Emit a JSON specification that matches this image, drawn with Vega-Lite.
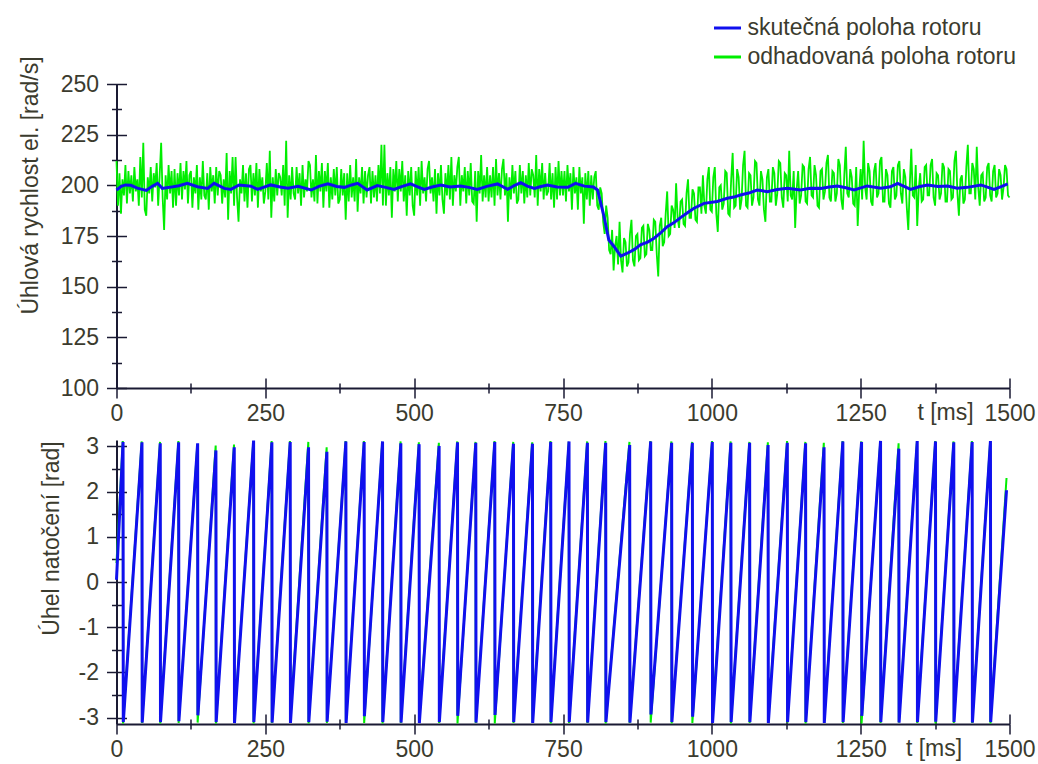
{
  "$schema": "https://vega.github.io/schema/vega-lite/v6.json",
  "padding": {"left": 18.5, "top": 13, "right": 5, "bottom": 5},
  "background": "white",
  "spacing": 52,
  "bounds": "flush",
  "config": {
    "view": {"stroke": null},
    "font": "Liberation Sans",
    "axis": {
      "labelFont": "Liberation Sans", "labelFontSize": 23, "labelColor": "#3b3b2e",
      "titleFont": "Liberation Sans", "titleFontSize": 23, "titleFontWeight": "normal", "titleColor": "#3b3b2e",
      "domainColor": "#1a1a33", "domainWidth": 2, "tickColor": "#1a1a33", "tickWidth": 1.5, "grid": false
    },
    "legend": {
      "labelFont": "Liberation Sans", "labelFontSize": 23, "labelColor": "#3b3b2e", "labelLimit": 500
    }
  },
  "datasets": {
    "rychlostSkut": [
      {"t":0,"v":197.7},{"t":8,"v":199.5},{"t":15,"v":200.2},{"t":24,"v":200.0},{"t":35,"v":198.6},{"t":50,"v":197.5},{"t":60,"v":199.5},{"t":69,"v":201.0},{"t":77,"v":198.5},{"t":89,"v":199.0},
      {"t":105,"v":199.8},{"t":119,"v":201.0},{"t":136,"v":199.3},{"t":153,"v":198.5},{"t":164,"v":201.0},{"t":181,"v":198.5},{"t":192,"v":198.0},{"t":206,"v":200.2},{"t":226,"v":199.6},{"t":237,"v":198.0},
      {"t":259,"v":200.2},{"t":275,"v":199.2},{"t":288,"v":198.6},{"t":305,"v":199.5},{"t":327,"v":197.7},{"t":340,"v":199.5},{"t":355,"v":200.7},{"t":370,"v":199.4},{"t":383,"v":199.0},{"t":395,"v":200.2},
      {"t":405,"v":201.0},{"t":421,"v":197.7},{"t":438,"v":199.9},{"t":452,"v":199.0},{"t":466,"v":198.0},{"t":480,"v":199.5},{"t":494,"v":200.7},{"t":505,"v":199.4},{"t":517,"v":198.0},{"t":530,"v":199.2},
      {"t":545,"v":200.2},{"t":560,"v":199.2},{"t":578,"v":199.7},{"t":592,"v":199.0},{"t":606,"v":198.0},{"t":622,"v":199.5},{"t":640,"v":200.7},{"t":657,"v":198.0},{"t":668,"v":199.9},{"t":679,"v":201.3},
      {"t":690,"v":199.6},{"t":702,"v":198.5},{"t":713,"v":199.4},{"t":724,"v":200.2},{"t":740,"v":199.2},{"t":758,"v":199.0},{"t":771,"v":201.0},{"t":786,"v":199.6},{"t":801,"v":199.2},{"t":808,"v":197.7},
      {"t":819,"v":184.5},{"t":827,"v":173.0},{"t":836,"v":169.7},{"t":847,"v":165.1},{"t":858,"v":166.5},{"t":870,"v":168.4},{"t":880,"v":170.6},{"t":892,"v":172.0},{"t":903,"v":173.9},{"t":914,"v":176.5},
      {"t":925,"v":179.6},{"t":936,"v":181.5},{"t":948,"v":184.2},{"t":959,"v":186.5},{"t":970,"v":188.7},{"t":987,"v":191.1},{"t":1009,"v":192.0},{"t":1026,"v":193.6},{"t":1037,"v":194.2},{"t":1048,"v":195.2},
      {"t":1062,"v":196.2},{"t":1076,"v":197.7},{"t":1093,"v":196.9},{"t":1110,"v":197.9},{"t":1127,"v":198.5},{"t":1149,"v":197.7},{"t":1165,"v":198.6},{"t":1183,"v":198.5},{"t":1197,"v":199.2},{"t":1211,"v":199.7},
      {"t":1225,"v":198.8},{"t":1239,"v":197.7},{"t":1261,"v":199.7},{"t":1284,"v":198.6},{"t":1300,"v":199.3},{"t":1312,"v":201.0},{"t":1334,"v":198.0},{"t":1348,"v":199.3},{"t":1362,"v":200.2},{"t":1380,"v":199.4},
      {"t":1396,"v":199.7},{"t":1412,"v":198.6},{"t":1429,"v":199.0},{"t":1452,"v":200.2},{"t":1474,"v":198.0},{"t":1486,"v":199.4},{"t":1497,"v":200.7}
    ],
    "rychlostOdhad": [
      {"t":0,"v":212},{"t":2.5,"v":190},{"t":5,"v":206},{"t":7.5,"v":186},{"t":10,"v":203},{"t":12.5,"v":195},{"t":15,"v":210},{"t":17.5,"v":191},{"t":20,"v":207},{"t":22.5,"v":196},
      {"t":25,"v":205},{"t":27.5,"v":192},{"t":30,"v":209},{"t":32.5,"v":197},{"t":35,"v":203},{"t":37.5,"v":190},{"t":40,"v":214},{"t":42.5,"v":194},{"t":45,"v":221},{"t":47.5,"v":188},
      {"t":50,"v":185},{"t":52.5,"v":204},{"t":55,"v":196},{"t":57.5,"v":209},{"t":60,"v":192},{"t":62.5,"v":206},{"t":65,"v":199},{"t":67.5,"v":211},{"t":70,"v":190},{"t":72.5,"v":205},
      {"t":75,"v":221},{"t":77.5,"v":194},{"t":80,"v":178},{"t":82.5,"v":205},{"t":85,"v":193},{"t":87.5,"v":210},{"t":90,"v":196},{"t":92.5,"v":207},{"t":95,"v":189},{"t":97.5,"v":208},
      {"t":100,"v":190},{"t":102.5,"v":206},{"t":105,"v":195},{"t":107.5,"v":211},{"t":110,"v":193},{"t":112.5,"v":207},{"t":115,"v":198},{"t":117.5,"v":212},{"t":120,"v":191},{"t":122.5,"v":205},
      {"t":125,"v":207},{"t":127.5,"v":189},{"t":130,"v":204},{"t":132.5,"v":196},{"t":135,"v":210},{"t":137.5,"v":188},{"t":140,"v":204},{"t":142.5,"v":193},{"t":145,"v":212},{"t":147.5,"v":195},
      {"t":150,"v":193},{"t":152.5,"v":206},{"t":155,"v":188},{"t":157.5,"v":209},{"t":160,"v":197},{"t":162.5,"v":205},{"t":165,"v":191},{"t":167.5,"v":209},{"t":170,"v":195},{"t":172.5,"v":207},
      {"t":175,"v":205},{"t":177.5,"v":191},{"t":180,"v":203},{"t":182.5,"v":194},{"t":185,"v":216},{"t":187.5,"v":183},{"t":190,"v":207},{"t":192.5,"v":196},{"t":195,"v":214},{"t":197.5,"v":190},
      {"t":200,"v":214},{"t":202.5,"v":194},{"t":205,"v":182},{"t":207.5,"v":203},{"t":210,"v":196},{"t":212.5,"v":210},{"t":215,"v":192},{"t":217.5,"v":206},{"t":220,"v":189},{"t":222.5,"v":208},
      {"t":225,"v":210},{"t":227.5,"v":192},{"t":230,"v":206},{"t":232.5,"v":195},{"t":235,"v":211},{"t":237.5,"v":189},{"t":240,"v":208},{"t":242.5,"v":197},{"t":245,"v":204},{"t":247.5,"v":191},
      {"t":250,"v":197},{"t":252.5,"v":211},{"t":255,"v":193},{"t":257.5,"v":217},{"t":260,"v":184},{"t":262.5,"v":204},{"t":265,"v":192},{"t":267.5,"v":208},{"t":270,"v":195},{"t":272.5,"v":206},
      {"t":275,"v":204},{"t":277.5,"v":195},{"t":280,"v":210},{"t":282.5,"v":190},{"t":285,"v":222},{"t":287.5,"v":184},{"t":290,"v":205},{"t":292.5,"v":193},{"t":295,"v":209},{"t":297.5,"v":196},
      {"t":300,"v":193},{"t":302.5,"v":209},{"t":305,"v":196},{"t":307.5,"v":206},{"t":310,"v":190},{"t":312.5,"v":210},{"t":315,"v":194},{"t":317.5,"v":203},{"t":320,"v":197},{"t":322.5,"v":212},
      {"t":325,"v":210},{"t":327.5,"v":194},{"t":330,"v":203},{"t":332.5,"v":192},{"t":335,"v":215},{"t":337.5,"v":191},{"t":340,"v":207},{"t":342.5,"v":197},{"t":345,"v":211},{"t":347.5,"v":189},
      {"t":350,"v":207},{"t":352.5,"v":197},{"t":355,"v":211},{"t":357.5,"v":189},{"t":360,"v":204},{"t":362.5,"v":193},{"t":365,"v":208},{"t":367.5,"v":195},{"t":370,"v":209},{"t":372.5,"v":191},
      {"t":375,"v":193},{"t":377.5,"v":208},{"t":380,"v":195},{"t":382.5,"v":206},{"t":385,"v":183},{"t":387.5,"v":206},{"t":390,"v":192},{"t":392.5,"v":210},{"t":395,"v":194},{"t":397.5,"v":204},
      {"t":400,"v":192},{"t":402.5,"v":213},{"t":405,"v":187},{"t":407.5,"v":204},{"t":410,"v":196},{"t":412.5,"v":209},{"t":415,"v":191},{"t":417.5,"v":207},{"t":420,"v":194},{"t":422.5,"v":205},
      {"t":425,"v":209},{"t":427.5,"v":191},{"t":430,"v":207},{"t":432.5,"v":194},{"t":435,"v":205},{"t":437.5,"v":192},{"t":440,"v":210},{"t":442.5,"v":196},{"t":445,"v":220},{"t":447.5,"v":190},
      {"t":450,"v":220},{"t":452.5,"v":190},{"t":455,"v":206},{"t":457.5,"v":195},{"t":460,"v":209},{"t":462.5,"v":184},{"t":465,"v":208},{"t":467.5,"v":197},{"t":470,"v":212},{"t":472.5,"v":192},
      {"t":475,"v":208},{"t":477.5,"v":197},{"t":480,"v":212},{"t":482.5,"v":192},{"t":485,"v":205},{"t":487.5,"v":185},{"t":490,"v":207},{"t":492.5,"v":195},{"t":495,"v":209},{"t":497.5,"v":190},
      {"t":500,"v":185},{"t":502.5,"v":207},{"t":505,"v":195},{"t":507.5,"v":209},{"t":510,"v":190},{"t":512.5,"v":212},{"t":515,"v":196},{"t":517.5,"v":204},{"t":520,"v":192},{"t":522.5,"v":208},
      {"t":525,"v":212},{"t":527.5,"v":196},{"t":530,"v":204},{"t":532.5,"v":192},{"t":535,"v":208},{"t":537.5,"v":186},{"t":540,"v":206},{"t":542.5,"v":195},{"t":545,"v":210},{"t":547.5,"v":193},
      {"t":550,"v":186},{"t":552.5,"v":206},{"t":555,"v":195},{"t":557.5,"v":210},{"t":560,"v":193},{"t":562.5,"v":214},{"t":565,"v":190},{"t":567.5,"v":205},{"t":570,"v":197},{"t":572.5,"v":209},
      {"t":575,"v":214},{"t":577.5,"v":190},{"t":580,"v":205},{"t":582.5,"v":197},{"t":585,"v":209},{"t":587.5,"v":191},{"t":590,"v":207},{"t":592.5,"v":195},{"t":595,"v":211},{"t":597.5,"v":192},
      {"t":600,"v":191},{"t":602.5,"v":207},{"t":605,"v":182},{"t":607.5,"v":207},{"t":610,"v":196},{"t":612.5,"v":215},{"t":615,"v":192},{"t":617.5,"v":205},{"t":620,"v":194},{"t":622.5,"v":209},
      {"t":625,"v":192},{"t":627.5,"v":205},{"t":630,"v":194},{"t":632.5,"v":209},{"t":635,"v":190},{"t":637.5,"v":213},{"t":640,"v":195},{"t":642.5,"v":206},{"t":645,"v":193},{"t":647.5,"v":208},
      {"t":650,"v":213},{"t":652.5,"v":195},{"t":655,"v":206},{"t":657.5,"v":182},{"t":660,"v":204},{"t":662.5,"v":193},{"t":665,"v":210},{"t":667.5,"v":196},{"t":670,"v":207},{"t":672.5,"v":191},
      {"t":675,"v":193},{"t":677.5,"v":210},{"t":680,"v":196},{"t":682.5,"v":207},{"t":685,"v":191},{"t":687.5,"v":205},{"t":690,"v":194},{"t":692.5,"v":211},{"t":695,"v":195},{"t":697.5,"v":208},
      {"t":700,"v":205},{"t":702.5,"v":194},{"t":705,"v":215},{"t":707.5,"v":190},{"t":710,"v":208},{"t":712.5,"v":197},{"t":715,"v":211},{"t":717.5,"v":193},{"t":720,"v":206},{"t":722.5,"v":195},
      {"t":725,"v":197},{"t":727.5,"v":211},{"t":730,"v":193},{"t":732.5,"v":206},{"t":735,"v":189},{"t":737.5,"v":209},{"t":740,"v":193},{"t":742.5,"v":212},{"t":745,"v":195},{"t":747.5,"v":207},
      {"t":750,"v":195},{"t":752.5,"v":207},{"t":755,"v":192},{"t":757.5,"v":210},{"t":760,"v":197},{"t":762.5,"v":206},{"t":765,"v":188},{"t":767.5,"v":209},{"t":770,"v":196},{"t":772.5,"v":204},
      {"t":775,"v":188},{"t":777.5,"v":209},{"t":780,"v":196},{"t":782.5,"v":204},{"t":785,"v":181},{"t":787.5,"v":206},{"t":790,"v":193},{"t":792.5,"v":207},{"t":795,"v":190},{"t":797.5,"v":205},
      {"t":800,"v":193},{"t":802.5,"v":204},{"t":805,"v":207},{"t":807.5,"v":190},{"t":810,"v":188},{"t":812.5,"v":199},{"t":815,"v":196},{"t":817.5,"v":182},{"t":820,"v":176},{"t":822.5,"v":190},
      {"t":825,"v":184},{"t":827.5,"v":168},{"t":830,"v":166},{"t":832.5,"v":178},{"t":835,"v":158},{"t":837.5,"v":170},{"t":840,"v":175},{"t":842.5,"v":161},{"t":845,"v":182},{"t":847.5,"v":163},
      {"t":850,"v":157},{"t":852.5,"v":174},{"t":855,"v":172},{"t":857.5,"v":160},{"t":860,"v":162},{"t":862.5,"v":176},{"t":865,"v":183},{"t":867.5,"v":163},{"t":870,"v":160},{"t":872.5,"v":175},
      {"t":875,"v":176},{"t":877.5,"v":163},{"t":880,"v":164},{"t":882.5,"v":179},{"t":885,"v":180},{"t":887.5,"v":165},{"t":890,"v":166},{"t":892.5,"v":181},{"t":895,"v":178},{"t":897.5,"v":168},
      {"t":900,"v":168},{"t":902.5,"v":183},{"t":905,"v":182},{"t":907.5,"v":166},{"t":910,"v":155},{"t":912.5,"v":180},{"t":915,"v":184},{"t":917.5,"v":170},{"t":920,"v":172},{"t":922.5,"v":186},
      {"t":925,"v":197},{"t":927.5,"v":175},{"t":930,"v":176},{"t":932.5,"v":190},{"t":935,"v":188},{"t":937.5,"v":179},{"t":940,"v":201},{"t":942.5,"v":184},{"t":945,"v":179},{"t":947.5,"v":192},
      {"t":950,"v":193},{"t":952.5,"v":181},{"t":955,"v":180},{"t":957.5,"v":196},{"t":960,"v":203},{"t":962.5,"v":184},{"t":965,"v":184},{"t":967.5,"v":198},{"t":970,"v":196},{"t":972.5,"v":183},
      {"t":975,"v":182},{"t":977.5,"v":199},{"t":980,"v":199},{"t":982.5,"v":186},{"t":985,"v":205},{"t":987.5,"v":190},{"t":990,"v":186},{"t":992.5,"v":203},{"t":995,"v":209},{"t":997.5,"v":188},
      {"t":1000,"v":187},{"t":1002.5,"v":204},{"t":1005,"v":209},{"t":1007.5,"v":186},{"t":1010,"v":177},{"t":1012.5,"v":199},{"t":1015,"v":200},{"t":1017.5,"v":188},{"t":1020,"v":191},{"t":1022.5,"v":207},
      {"t":1025,"v":206},{"t":1027.5,"v":186},{"t":1030,"v":185},{"t":1032.5,"v":203},{"t":1035,"v":216},{"t":1037.5,"v":189},{"t":1040,"v":190},{"t":1042.5,"v":208},{"t":1045,"v":204},{"t":1047.5,"v":188},
      {"t":1050,"v":193},{"t":1052.5,"v":210},{"t":1055,"v":217},{"t":1057.5,"v":190},{"t":1060,"v":189},{"t":1062.5,"v":206},{"t":1065,"v":205},{"t":1067.5,"v":190},{"t":1070,"v":194},{"t":1072.5,"v":212},
      {"t":1075,"v":211},{"t":1077.5,"v":193},{"t":1080,"v":190},{"t":1082.5,"v":207},{"t":1085,"v":203},{"t":1087.5,"v":188},{"t":1090,"v":182},{"t":1092.5,"v":204},{"t":1095,"v":208},{"t":1097.5,"v":192},
      {"t":1100,"v":192},{"t":1102.5,"v":209},{"t":1105,"v":206},{"t":1107.5,"v":190},{"t":1110,"v":196},{"t":1112.5,"v":212},{"t":1115,"v":211},{"t":1117.5,"v":194},{"t":1120,"v":189},{"t":1122.5,"v":206},
      {"t":1125,"v":205},{"t":1127.5,"v":192},{"t":1130,"v":217},{"t":1132.5,"v":195},{"t":1135,"v":193},{"t":1137.5,"v":207},{"t":1140,"v":179},{"t":1142.5,"v":198},{"t":1145,"v":207},{"t":1147.5,"v":191},
      {"t":1150,"v":195},{"t":1152.5,"v":210},{"t":1155,"v":209},{"t":1157.5,"v":192},{"t":1160,"v":191},{"t":1162.5,"v":208},{"t":1165,"v":214},{"t":1167.5,"v":195},{"t":1170,"v":194},{"t":1172.5,"v":210},
      {"t":1175,"v":205},{"t":1177.5,"v":190},{"t":1180,"v":189},{"t":1182.5,"v":207},{"t":1185,"v":208},{"t":1187.5,"v":193},{"t":1190,"v":197},{"t":1192.5,"v":211},{"t":1195,"v":215},{"t":1197.5,"v":194},
      {"t":1200,"v":192},{"t":1202.5,"v":207},{"t":1205,"v":206},{"t":1207.5,"v":192},{"t":1210,"v":196},{"t":1212.5,"v":213},{"t":1215,"v":210},{"t":1217.5,"v":193},{"t":1220,"v":188},{"t":1222.5,"v":205},
      {"t":1225,"v":219},{"t":1227.5,"v":196},{"t":1230,"v":194},{"t":1232.5,"v":208},{"t":1235,"v":204},{"t":1237.5,"v":191},{"t":1240,"v":190},{"t":1242.5,"v":209},{"t":1245,"v":180},{"t":1247.5,"v":197},
      {"t":1250,"v":208},{"t":1252.5,"v":193},{"t":1255,"v":222},{"t":1257.5,"v":199},{"t":1260,"v":193},{"t":1262.5,"v":211},{"t":1265,"v":207},{"t":1267.5,"v":192},{"t":1270,"v":190},{"t":1272.5,"v":207},
      {"t":1275,"v":211},{"t":1277.5,"v":194},{"t":1280,"v":196},{"t":1282.5,"v":212},{"t":1285,"v":214},{"t":1287.5,"v":192},{"t":1290,"v":192},{"t":1292.5,"v":208},{"t":1295,"v":205},{"t":1297.5,"v":191},
      {"t":1300,"v":189},{"t":1302.5,"v":207},{"t":1305,"v":209},{"t":1307.5,"v":193},{"t":1310,"v":195},{"t":1312.5,"v":210},{"t":1315,"v":212},{"t":1317.5,"v":196},{"t":1320,"v":191},{"t":1322.5,"v":208},
      {"t":1325,"v":204},{"t":1327.5,"v":189},{"t":1330,"v":178},{"t":1332.5,"v":200},{"t":1335,"v":218},{"t":1337.5,"v":195},{"t":1340,"v":194},{"t":1342.5,"v":210},{"t":1345,"v":180},{"t":1347.5,"v":198},
      {"t":1350,"v":206},{"t":1352.5,"v":192},{"t":1355,"v":193},{"t":1357.5,"v":209},{"t":1360,"v":210},{"t":1362.5,"v":195},{"t":1365,"v":195},{"t":1367.5,"v":210},{"t":1370,"v":213},{"t":1372.5,"v":194},
      {"t":1375,"v":190},{"t":1377.5,"v":206},{"t":1380,"v":205},{"t":1382.5,"v":193},{"t":1385,"v":196},{"t":1387.5,"v":211},{"t":1390,"v":209},{"t":1392.5,"v":192},{"t":1395,"v":192},{"t":1397.5,"v":208},
      {"t":1400,"v":207},{"t":1402.5,"v":193},{"t":1405,"v":194},{"t":1407.5,"v":212},{"t":1410,"v":217},{"t":1412.5,"v":196},{"t":1415,"v":185},{"t":1417.5,"v":203},{"t":1420,"v":205},{"t":1422.5,"v":191},
      {"t":1425,"v":193},{"t":1427.5,"v":209},{"t":1430,"v":220},{"t":1432.5,"v":196},{"t":1435,"v":196},{"t":1437.5,"v":211},{"t":1440,"v":208},{"t":1442.5,"v":193},{"t":1445,"v":219},{"t":1447.5,"v":199},
      {"t":1450,"v":190},{"t":1452.5,"v":205},{"t":1455,"v":206},{"t":1457.5,"v":192},{"t":1460,"v":194},{"t":1462.5,"v":209},{"t":1465,"v":211},{"t":1467.5,"v":195},{"t":1470,"v":192},{"t":1472.5,"v":207},
      {"t":1475,"v":210},{"t":1477.5,"v":194},{"t":1480,"v":196},{"t":1482.5,"v":208},{"t":1485,"v":205},{"t":1487.5,"v":193},{"t":1490,"v":199},{"t":1492.5,"v":210},{"t":1495,"v":208},{"t":1497.5,"v":195},
      {"t":1500,"v":194}
    ],
    "uhelSkut": [
      {"t":0,"v":0.05},
      {"t":11.0,"v":3.10},{"t":11.4,"v":-3.10},{"t":42.8,"v":3.09},{"t":43.2,"v":-3.11},{"t":73.5,"v":3.07},{"t":73.9,"v":-3.10},
      {"t":104.4,"v":3.09},{"t":104.8,"v":-3.08},{"t":136.3,"v":3.07},{"t":136.7,"v":-2.95},{"t":167.0,"v":2.91},{"t":167.4,"v":-3.10},
      {"t":197.8,"v":2.98},{"t":198.2,"v":-3.12},{"t":230.3,"v":3.13},{"t":230.7,"v":-3.10},{"t":261.0,"v":3.09},{"t":261.4,"v":-3.11},
      {"t":291.8,"v":3.10},{"t":292.2,"v":-3.12},{"t":322.6,"v":2.98},{"t":323.0,"v":-3.10},{"t":353.4,"v":2.88},{"t":353.8,"v":-3.09},
      {"t":385.3,"v":3.11},{"t":385.7,"v":-3.12},{"t":416.0,"v":3.10},{"t":416.4,"v":-2.97},{"t":446.9,"v":3.11},{"t":447.3,"v":-3.10},
      {"t":477.6,"v":3.07},{"t":478.0,"v":-3.11},{"t":508.3,"v":3.05},{"t":508.7,"v":-3.12},{"t":541.9,"v":3.01},{"t":542.3,"v":-3.10},
      {"t":572.8,"v":3.09},{"t":573.2,"v":-2.96},{"t":603.5,"v":3.08},{"t":603.9,"v":-3.11},{"t":635.4,"v":3.10},{"t":635.8,"v":-2.94},
      {"t":666.8,"v":3.06},{"t":667.2,"v":-3.10},{"t":698.7,"v":3.06},{"t":699.1,"v":-3.12},{"t":729.4,"v":3.10},{"t":729.8,"v":-3.10},
      {"t":760.1,"v":3.11},{"t":760.5,"v":-3.10},{"t":791.0,"v":3.08},{"t":791.4,"v":-3.11},{"t":821.7,"v":3.08},{"t":822.1,"v":-3.10},
      {"t":862.0,"v":3.03},{"t":862.4,"v":-3.11},{"t":897.3,"v":3.11},{"t":897.7,"v":-2.93},{"t":932.5,"v":3.08},{"t":932.9,"v":-3.10},
      {"t":967.3,"v":3.08},{"t":967.7,"v":-2.98},{"t":1000.8,"v":3.10},{"t":1001.2,"v":-3.12},{"t":1032.0,"v":3.08},{"t":1032.4,"v":-3.10},
      {"t":1063.5,"v":3.08},{"t":1063.9,"v":-3.10},{"t":1094.5,"v":3.03},{"t":1094.9,"v":-3.12},{"t":1126.8,"v":3.08},{"t":1127.2,"v":-3.10},
      {"t":1157.5,"v":3.07},{"t":1157.9,"v":-3.10},{"t":1188.5,"v":2.98},{"t":1188.9,"v":-3.12},{"t":1220.1,"v":3.11},{"t":1220.5,"v":-3.10},
      {"t":1251.5,"v":3.10},{"t":1251.9,"v":-2.96},{"t":1283.4,"v":3.12},{"t":1283.8,"v":-3.10},{"t":1314.1,"v":2.95},{"t":1314.5,"v":-3.11},
      {"t":1345.0,"v":3.12},{"t":1345.4,"v":-3.10},{"t":1375.7,"v":3.11},{"t":1376.1,"v":-3.09},{"t":1406.4,"v":3.09},{"t":1406.8,"v":-3.10},
      {"t":1437.3,"v":3.10},{"t":1437.7,"v":-3.11},{"t":1468.0,"v":3.12},{"t":1468.4,"v":-3.10},
      {"t":1495,"v":2.03}
    ],
    "uhelOdhad": [
      {"t":0,"v":0.42},
      {"t":10.6,"v":3.12},{"t":11.0,"v":-3.13},{"t":42.4,"v":3.11},{"t":42.8,"v":-3.12},{"t":73.1,"v":3.10},{"t":73.5,"v":-3.13},
      {"t":104.0,"v":3.12},{"t":104.4,"v":-3.12},{"t":135.9,"v":3.05},{"t":136.3,"v":-3.11},{"t":166.6,"v":3.02},{"t":167.0,"v":-3.13},
      {"t":197.4,"v":3.04},{"t":197.8,"v":-3.12},{"t":229.9,"v":3.12},{"t":230.3,"v":-3.13},{"t":260.6,"v":3.12},{"t":261.0,"v":-3.12},
      {"t":291.4,"v":3.12},{"t":291.8,"v":-3.11},{"t":322.2,"v":3.10},{"t":322.6,"v":-3.13},{"t":353.0,"v":2.98},{"t":353.4,"v":-3.12},
      {"t":384.9,"v":3.12},{"t":385.3,"v":-3.11},{"t":415.6,"v":3.12},{"t":416.0,"v":-3.12},{"t":446.5,"v":3.10},{"t":446.9,"v":-3.13},
      {"t":477.2,"v":3.11},{"t":477.6,"v":-3.12},{"t":507.9,"v":3.09},{"t":508.3,"v":-3.11},{"t":541.5,"v":3.08},{"t":541.9,"v":-3.12},
      {"t":572.4,"v":3.11},{"t":572.8,"v":-3.13},{"t":603.1,"v":3.10},{"t":603.5,"v":-3.12},{"t":635.0,"v":3.12},{"t":635.4,"v":-3.13},
      {"t":666.4,"v":3.10},{"t":666.8,"v":-3.12},{"t":698.3,"v":3.09},{"t":698.7,"v":-3.11},{"t":729.0,"v":3.12},{"t":729.4,"v":-3.13},
      {"t":759.7,"v":3.10},{"t":760.1,"v":-3.12},{"t":790.6,"v":3.11},{"t":791.0,"v":-3.12},{"t":821.3,"v":3.12},{"t":821.7,"v":-3.13},
      {"t":861.6,"v":3.10},{"t":862.0,"v":-3.12},{"t":896.9,"v":3.12},{"t":897.3,"v":-3.11},{"t":932.1,"v":3.11},{"t":932.5,"v":-3.13},
      {"t":966.9,"v":3.10},{"t":967.3,"v":-3.12},{"t":1000.4,"v":3.12},{"t":1000.8,"v":-3.11},{"t":1031.6,"v":3.11},{"t":1032.0,"v":-3.13},
      {"t":1063.1,"v":3.10},{"t":1063.5,"v":-3.12},{"t":1094.1,"v":3.09},{"t":1094.5,"v":-3.12},{"t":1126.4,"v":3.12},{"t":1126.8,"v":-3.11},
      {"t":1157.1,"v":3.10},{"t":1157.5,"v":-3.13},{"t":1188.1,"v":3.08},{"t":1188.5,"v":-3.12},{"t":1219.7,"v":3.12},{"t":1220.1,"v":-3.12},
      {"t":1251.1,"v":3.11},{"t":1251.5,"v":-3.13},{"t":1283.0,"v":3.12},{"t":1283.4,"v":-3.12},{"t":1313.7,"v":3.07},{"t":1314.1,"v":-3.11},
      {"t":1344.6,"v":3.12},{"t":1345.0,"v":-3.12},{"t":1375.3,"v":3.12},{"t":1375.7,"v":-3.13},{"t":1406.0,"v":3.11},{"t":1406.4,"v":-3.12},
      {"t":1436.9,"v":3.12},{"t":1437.3,"v":-3.12},{"t":1467.6,"v":3.12},{"t":1468.0,"v":-3.13},
      {"t":1495,"v":2.30}
    ]
  },
  "vconcat": [
    {
      "width": 893,
      "height": 304,
      "resolve": {"axis": {"x": "independent", "y": "independent"}},
      "layer": [
        {
          "data": {"name": "rychlostOdhad"},
          "mark": {"type": "line", "strokeWidth": 1.8},
          "encoding": {
            "x": {"field": "t", "type": "quantitative", "scale": {"domain": [0, 1500], "nice": false},
              "axis": {"orient": "bottom", "values": [0, 250, 500, 750, 1000, 1250, 1500], "labelExpr": "'' + datum.value", "tickSize": 10, "labelPadding": 4, "labelFlush": false,
                "title": "t [ms]", "titleX": 828.5, "titleY": 31.5, "titleAlign": "center", "titleBaseline": "alphabetic"}},
            "y": {"field": "v", "type": "quantitative", "scale": {"domain": [100, 250], "nice": false, "zero": false},
              "axis": {"orient": "left", "values": [100, 125, 150, 175, 200, 225, 250], "labelExpr": "'' + datum.value", "tickSize": 10, "labelPadding": 8, "labelFlush": false,
                "title": "Úhlová rychlost el. [rad/s]", "titleAngle": 270, "titleX": -79.5, "titleY": 101, "titleAlign": "center", "titleBaseline": "alphabetic"}},
            "color": {"datum": "odhadovaná poloha rotoru", "type": "nominal",
              "scale": {"domain": ["skutečná poloha rotoru", "odhadovaná poloha rotoru"], "range": ["#1010ee", "#00ee00"]},
              "legend": {"orient": "none", "legendX": 596, "legendY": -71, "title": null, "direction": "vertical", "labelLimit": 500,
                "symbolType": "stroke", "symbolStrokeWidth": 3, "symbolSize": 729, "labelOffset": 5, "rowPadding": 2, "padding": 0, "labelFontSize": 23}}
          }
        },
        {
          "data": {"name": "rychlostSkut"},
          "mark": {"type": "line", "strokeWidth": 3},
          "encoding": {
            "x": {"field": "t", "type": "quantitative",
              "axis": {"orient": "bottom", "values": [0, 250, 500, 750, 1000, 1250, 1500], "tickSize": 10, "offset": -10, "labels": false, "domain": false, "title": null}},
            "y": {"field": "v", "type": "quantitative",
              "axis": {"orient": "left", "values": [100, 125, 150, 175, 200, 225, 250], "tickSize": 10, "offset": -10, "labels": false, "domain": false, "title": null}},
            "color": {"datum": "skutečná poloha rotoru", "type": "nominal"}
          }
        },
        {
          "data": {"name": "rychlostSkut"},
          "mark": {"type": "line", "opacity": 0},
          "encoding": {
            "x": {"field": "t", "type": "quantitative",
              "axis": {"orient": "bottom", "values": [125, 375, 625, 875, 1125, 1375], "tickSize": 10, "offset": -5, "labels": false, "domain": false, "title": null}},
            "y": {"field": "v", "type": "quantitative",
              "axis": {"orient": "left", "values": [112.5, 137.5, 162.5, 187.5, 212.5, 237.5], "tickSize": 10, "offset": -5, "labels": false, "domain": false, "title": null}}
          }
        }
      ]
    },
    {
      "width": 893,
      "height": 284,
      "resolve": {"axis": {"x": "independent", "y": "independent"}},
      "layer": [
        {
          "data": {"name": "uhelOdhad"},
          "mark": {"type": "line", "strokeWidth": 2},
          "encoding": {
            "x": {"field": "t", "type": "quantitative", "scale": {"domain": [0, 1500], "nice": false},
              "axis": {"orient": "bottom", "values": [0, 250, 500, 750, 1000, 1250, 1500], "labelExpr": "'' + datum.value", "tickSize": 10, "labelPadding": 4, "labelFlush": false,
                "title": "t [ms]", "titleX": 817, "titleY": 31.5, "titleAlign": "center", "titleBaseline": "alphabetic"}},
            "y": {"field": "v", "type": "quantitative", "scale": {"domain": [-3.14159, 3.14159], "nice": false, "zero": false},
              "axis": {"orient": "left", "values": [-3, -2, -1, 0, 1, 2, 3], "labelExpr": "'' + datum.value", "tickSize": 10, "labelPadding": 8, "labelFlush": false,
                "title": "Úhel natočení [rad]", "titleAngle": 270, "titleX": -58.5, "titleY": 98, "titleAlign": "center", "titleBaseline": "alphabetic"}},
            "color": {"datum": "odhadovaná poloha rotoru", "type": "nominal", "legend": null}
          }
        },
        {
          "data": {"name": "uhelSkut"},
          "mark": {"type": "line", "strokeWidth": 3},
          "encoding": {
            "x": {"field": "t", "type": "quantitative",
              "axis": {"orient": "bottom", "values": [0, 250, 500, 750, 1000, 1250, 1500], "tickSize": 10, "offset": -10, "labels": false, "domain": false, "title": null}},
            "y": {"field": "v", "type": "quantitative",
              "axis": {"orient": "left", "values": [-3, -2, -1, 0, 1, 2, 3], "tickSize": 10, "offset": -10, "labels": false, "domain": false, "title": null}},
            "color": {"datum": "skutečná poloha rotoru", "type": "nominal", "legend": null}
          }
        },
        {
          "data": {"name": "uhelSkut"},
          "mark": {"type": "line", "opacity": 0},
          "encoding": {
            "x": {"field": "t", "type": "quantitative",
              "axis": {"orient": "bottom", "values": [125, 375, 625, 875, 1125, 1375], "tickSize": 10, "offset": -5, "labels": false, "domain": false, "title": null}},
            "y": {"field": "v", "type": "quantitative",
              "axis": {"orient": "left", "values": [-2.5, -1.5, -0.5, 0.5, 1.5, 2.5], "tickSize": 10, "offset": -5, "labels": false, "domain": false, "title": null}}
          }
        }
      ]
    }
  ]
}
